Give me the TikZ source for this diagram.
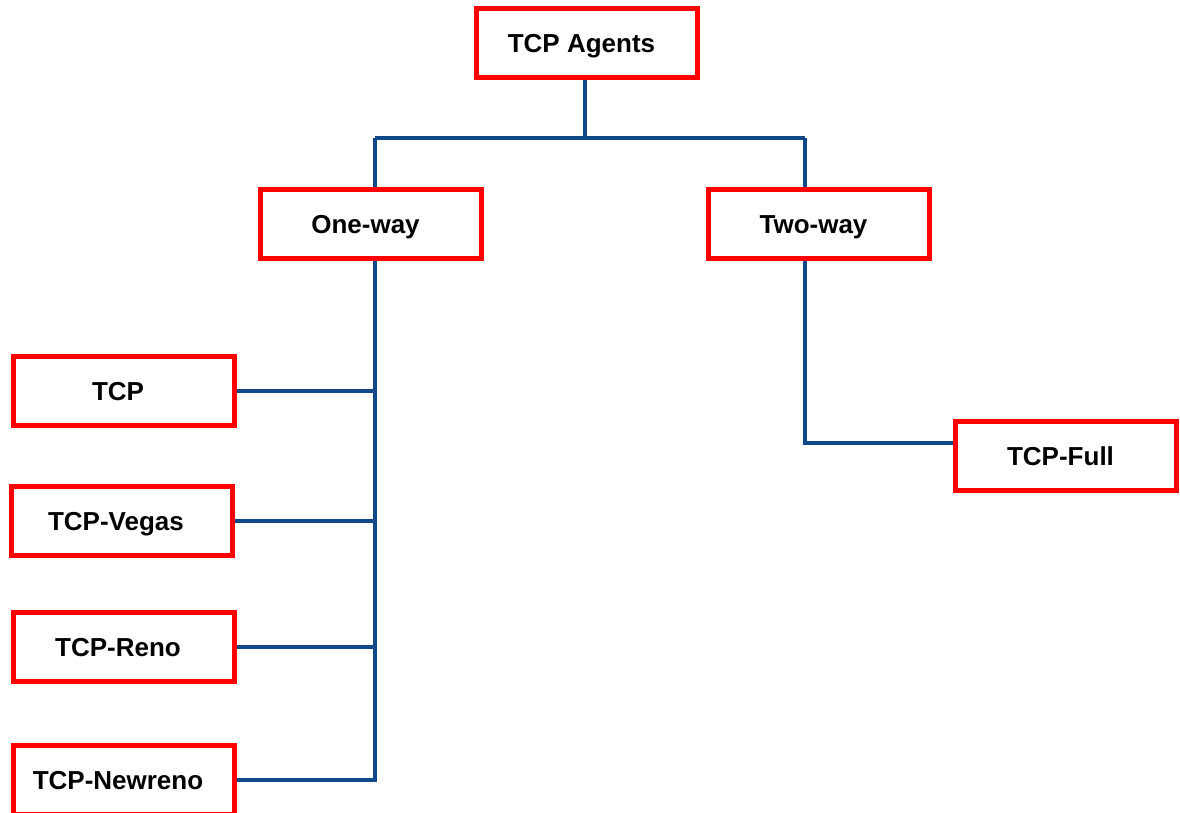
\documentclass[tikz,border=0pt]{standalone}
\usepackage{fontspec}
\setmainfont{Liberation Sans}
\definecolor{boxred}{RGB}{255,0,0}
\definecolor{linkblue}{RGB}{16,72,138}
\begin{document}
\begin{tikzpicture}[x=1pt,y=-1pt,
  agent/.style={draw=boxred, line width=5pt, fill=white, rectangle,
    minimum width=221pt, minimum height=69pt, inner sep=0pt,
    text height=18.6pt, text depth=0pt,
    font=\fontsize{26}{30}\selectfont\bfseries,
    execute at end node={\hspace{11pt}}},
  link/.style={draw=linkblue, line width=4pt, line join=miter}]
\useasboundingbox (0,0) rectangle (1180,813);
\fill[white] (0,0) rectangle (1180,813);

% hierarchy boxes
\node[agent] (agents) at (587,43) {TCP Agents};
\node[agent] (one) at (371,224) {One-way};
\node[agent] (two) at (819,224) {Two-way};
\node[agent] (tcp) at (123.5,391) {TCP};
\node[agent] (vegas) at (121.5,521) {TCP-Vegas};
\node[agent] (reno) at (123.5,647) {TCP-Reno};
\node[agent] (newreno) at (123.5,780) {TCP-Newreno};
\node[agent] (full) at (1066,456) {TCP-Full};

% junction points of the tree
\coordinate (jl) at (375,138);
\coordinate (jr) at (805,138);
\coordinate (trunk) at (375,260);
\coordinate (tb) at (805,443);

% top level split
\draw[link] (agents.south -| 585,0) -- (585,138);
\draw[link] (jl) -- (jr);
\draw[link] (jl) -- (jl |- one.north);
\draw[link] (jr) -- (jr |- two.north);

% one-way family
\draw[link] (trunk |- one.south) -- (trunk |- newreno.east) -- (newreno.east);
\draw[link] (tcp.east) -- (tcp.east -| trunk);
\draw[link] (vegas.east) -- (vegas.east -| trunk);
\draw[link] (reno.east) -- (reno.east -| trunk);

% two-way family
\draw[link] (tb |- two.south) -- (tb) -- (tb -| full.west);
\end{tikzpicture}
\end{document}
